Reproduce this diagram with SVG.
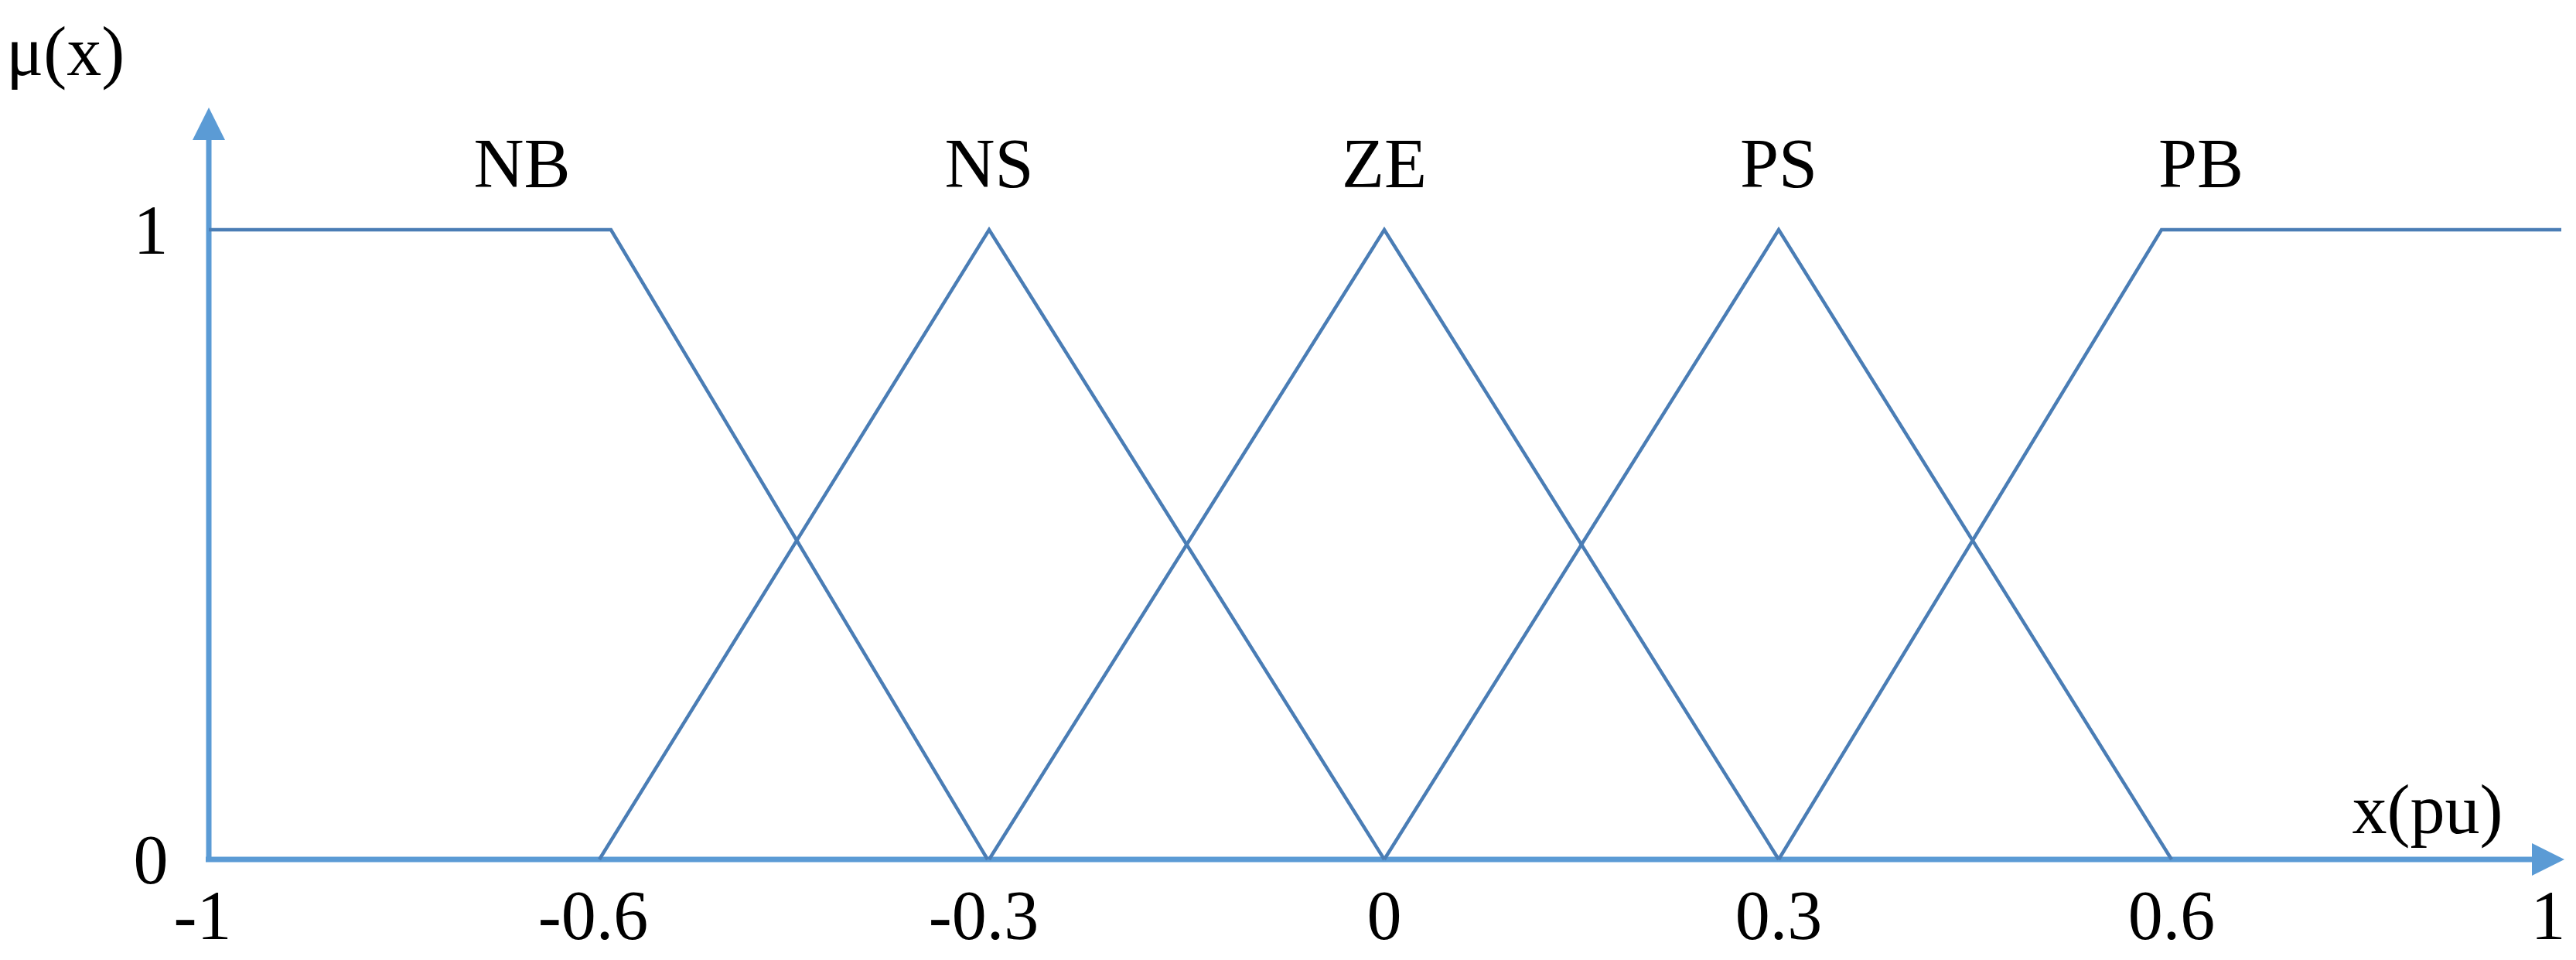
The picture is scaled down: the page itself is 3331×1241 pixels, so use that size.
<svg xmlns="http://www.w3.org/2000/svg" width="3331" height="1241" viewBox="0 0 3331 1241">
<style>
text{font-family:"Liberation Serif",serif;font-size:90px;fill:#000}
.ax{stroke:#5b9bd5;stroke-width:7;fill:none}
.mf{stroke:#4a7db5;stroke-width:4.5;fill:none}
</style>
<defs>
<marker id="ah" markerWidth="6" markerHeight="6" refX="3" refY="3" orient="auto" markerUnits="strokeWidth"><path d="M0,0 L6,3 L0,6 Z" fill="#5b9bd5"/></marker>
</defs>
<rect width="3331" height="1241" fill="#fff"/>
<g id="connectors">
<line class="ax" x1="270" y1="1111" x2="270" y2="160" marker-end="url(#ah)"/>
<line class="ax" x1="266" y1="1111" x2="3295" y2="1111" marker-end="url(#ah)"/>
</g>
<g id="NB"><polyline class="mf" points="270,297 790,297 1277,1111"/><text x="675" y="242" text-anchor="middle">NB</text></g>
<g id="NS"><polyline class="mf" points="775,1111 1279,297 1790,1111"/><text x="1279" y="242" text-anchor="middle">NS</text></g>
<g id="ZE"><polyline class="mf" points="1279,1111 1790,297 2300,1111"/><text x="1790" y="242" text-anchor="middle">ZE</text></g>
<g id="PS"><polyline class="mf" points="1790,1111 2300,297 2808,1111"/><text x="2300" y="242" text-anchor="middle">PS</text></g>
<g id="PB"><polyline class="mf" points="2300,1111 2795,297 3312,297"/><text x="2846" y="242" text-anchor="middle">PB</text></g>
<g id="labels">
<text x="8" y="97">μ(x)</text>
<text x="3139" y="1077" text-anchor="middle">x(pu)</text>
<text x="195" y="328" text-anchor="middle">1</text>
<text x="195" y="1142" text-anchor="middle">0</text>
<text x="262" y="1214" text-anchor="middle">-1</text>
<text x="767" y="1214" text-anchor="middle">-0.6</text>
<text x="1272" y="1214" text-anchor="middle">-0.3</text>
<text x="1790" y="1214" text-anchor="middle">0</text>
<text x="2300" y="1214" text-anchor="middle">0.3</text>
<text x="2808" y="1214" text-anchor="middle">0.6</text>
<text x="3295" y="1214" text-anchor="middle">1</text>
</g>
</svg>
